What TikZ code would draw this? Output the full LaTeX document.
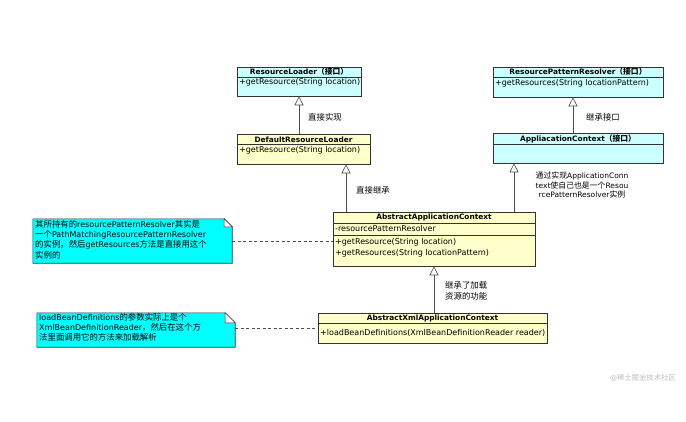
\documentclass[tikz,border=0pt]{standalone}
\usepackage{fontspec}
\setmainfont{DejaVu Sans}
\newfontfamily\zh[Scale=1.05]{Noto Sans CJK SC}
\usetikzlibrary{arrows.meta}
\definecolor{jiekouse}{HTML}{CCFFFF}
\definecolor{leise}{HTML}{FFFFCC}
\definecolor{zhushise}{HTML}{00FFFF}

\begin{document}
\begin{tikzpicture}[x=1pt, y=-1pt, font=\fontsize{8}{10}\selectfont,
  jiekou/.style={draw=black!80, fill=jiekouse, line width=0.6pt, inner sep=0pt},
  lei/.style={draw=black!80, fill=leise, line width=0.6pt, inner sep=0pt},
  fenge/.style={draw=black!80, line width=0.6pt},
  biaoti/.style={font=\fontsize{7.4}{9}\selectfont\bfseries, inner sep=0pt},
  chengyuan/.style={anchor=west, inner sep=0pt},
  biaozhu/.style={anchor=west, inner sep=0pt, align=left},
  zhushi/.style={inner sep=0pt},
  zhushibian/.style={draw=black!80, fill=zhushise, line width=0.6pt},
  jicheng/.style={draw=black!70, line width=0.6pt, -{Triangle[length=9pt, width=9pt, fill=white]}},
  xuxian/.style={draw=black!70, line width=0.5pt, dash pattern=on 3pt off 2.5pt}]
  \fill[white] (0,0) rectangle (686,421);
  \useasboundingbox (0,0) rectangle (686,421);

  % --- ResourceLoader / DefaultResourceLoader ---
  \node[jiekou, minimum width=124pt, minimum height=29pt] (rl) at (299,81.5) {};
  \draw[fenge] (rl.west |- 0,77) -- (rl.east |- 0,77);
  \node[biaoti] (rl-t) at (299,72) {ResourceLoader{\zh（接口）}};
  \node[chengyuan] (rl-m) at (239,82.5) {+getResource(String location)};

  \node[lei, minimum width=133pt, minimum height=30pt] (drl) at (303.5,149) {};
  \draw[fenge] (drl.west |- 0,144) -- (drl.east |- 0,144);
  \node[biaoti] (drl-t) at (303.5,139.5) {DefaultResourceLoader};
  \node[chengyuan] (drl-m) at (239,150.5) {+getResource(String location)};

  % --- ResourcePatternResolver / AppliacationContext ---
  \node[jiekou, minimum width=170pt, minimum height=30pt] (rpr) at (578,82) {};
  \draw[fenge] (rpr.west |- 0,77) -- (rpr.east |- 0,77);
  \node[biaoti] (rpr-t) at (578,71.5) {ResourcePatternResolver{\zh（接口）}};
  \node[chengyuan] (rpr-m) at (495,83.5) {+getResources(String locationPattern)};

  \node[jiekou, minimum width=170pt, minimum height=30pt] (ac) at (578,148) {};
  \draw[fenge] (ac.west |- 0,144) -- (ac.east |- 0,144);
  \node[biaoti] (ac-t) at (578,139) {AppliacationContext{\zh（接口）}};

  % --- AbstractApplicationContext ---
  \node[lei, minimum width=202pt, minimum height=54pt] (aac) at (434,239) {};
  \draw[fenge] (aac.west |- 0,223) -- (aac.east |- 0,223);
  \draw[fenge] (aac.west |- 0,235) -- (aac.east |- 0,235);
  \node[biaoti] (aac-t) at (434,217.5) {AbstractApplicationContext};
  \node[chengyuan] (aac-a) at (335,229) {-resourcePatternResolver};
  \node[chengyuan] (aac-m1) at (335,242.5) {+getResource(String location)};
  \node[chengyuan] (aac-m2) at (335,253.5) {+getResources(String locationPattern)};

  % --- AbstractXmlApplicationContext ---
  \node[lei, minimum width=229pt, minimum height=30pt] (axac) at (432.5,328) {};
  \draw[fenge] (axac.west |- 0,323) -- (axac.east |- 0,323);
  \node[biaoti] (axac-t) at (432.5,318) {AbstractXmlApplicationContext};
  \node[chengyuan] (axac-m) at (320,332.5) {+loadBeanDefinitions(XmlBeanDefinitionReader reader)};

  % jicheng jiantou
  \draw[jicheng] (drl.north -| rl.south) -- (rl.south);
  \draw[jicheng] ([xshift=-5pt]ac.north) -- ([xshift=-5pt]rpr.south);
  \draw[jicheng] ([xshift=-88pt]aac.north) -- ([xshift=-88pt]aac.north |- drl.south);
  \draw[jicheng] ([xshift=80pt]aac.north) -- ([xshift=80pt]aac.north |- ac.south);
  \draw[jicheng] (axac.north -| aac.south) -- (aac.south);

  % biaozhu
  \node[biaozhu] (l1) at (308,117) {\zh 直接实现};
  \node[biaozhu] (l2) at (586,117) {\zh 继承接口};
  \node[biaozhu] (l3) at (356,190) {\zh 直接继承};
  \node[inner sep=0pt, align=center, font=\fontsize{7.5}{9.3}\selectfont] (l4) at (582,185)
    {{\zh 通过实现}ApplicationConn\\text{\zh 使自己也是一个}Resou\\rcePatternResolver{\zh 实例}};
  \node[biaozhu, font=\fontsize{8}{11}\selectfont] (l5) at (445,290.5)
    {\zh 继承了加载\\\zh 资源的功能};

  % --- zhushi ---
  \node[zhushi, minimum width=199pt, minimum height=44pt] (n1) at (132.5,241) {};
  \filldraw[zhushibian] (n1.south west) -- (n1.north west) -- ([xshift=-8pt]n1.north east)
    -- ([yshift=-8pt]n1.north east) -- (n1.south east) -- cycle;
  \filldraw[draw=black!80, fill=white, line width=0.5pt] ([xshift=-8pt]n1.north east)
    -- ([xshift=-8pt, yshift=-8pt]n1.north east) -- ([yshift=-8pt]n1.north east) -- cycle;
  \node[inner sep=0pt, anchor=north west, align=left, font=\fontsize{8}{10.3}\selectfont] (n1-w) at (35,220)
    {{\zh 其所持有的}resourcePatternResolver{\zh 其实是}\\
     {\zh 一个}PathMatchingResourcePatternResolver\\
     {\zh 的实例，然后}getResources{\zh 方法是直接用这个}\\
     {\zh 实例的}};

  \node[zhushi, minimum width=198pt, minimum height=34pt] (n2) at (136,330) {};
  \filldraw[zhushibian] (n2.south west) -- (n2.north west) -- ([xshift=-10pt]n2.north east)
    -- ([yshift=-10pt]n2.north east) -- (n2.south east) -- cycle;
  \filldraw[draw=black!80, fill=white, line width=0.5pt] ([xshift=-10pt]n2.north east)
    -- ([xshift=-10pt, yshift=-10pt]n2.north east) -- ([yshift=-10pt]n2.north east) -- cycle;
  \node[inner sep=0pt, anchor=north west, align=left, font=\fontsize{8}{10}\selectfont] (n2-w) at (39,313.5)
    {loadBeanDefinitions{\zh 的参数实际上是个}\\
     XmlBeanDefinitionReader{\zh ，然后在这个方}\\
     {\zh 法里面调用它的方法来加载解析}};

  % xuxian
  \draw[xuxian] (n1.east) -- (n1.east -| aac.west);
  \draw[xuxian] (axac.west -| n2.east) -- (axac.west);

  % shuiyin
  \node[anchor=east, inner sep=0pt, text=black!25, font=\fontsize{7}{8}\selectfont] (shuiyin) at (676,378)
    {@{\zh 稀土掘金技术社区}};
\end{tikzpicture}
\end{document}
